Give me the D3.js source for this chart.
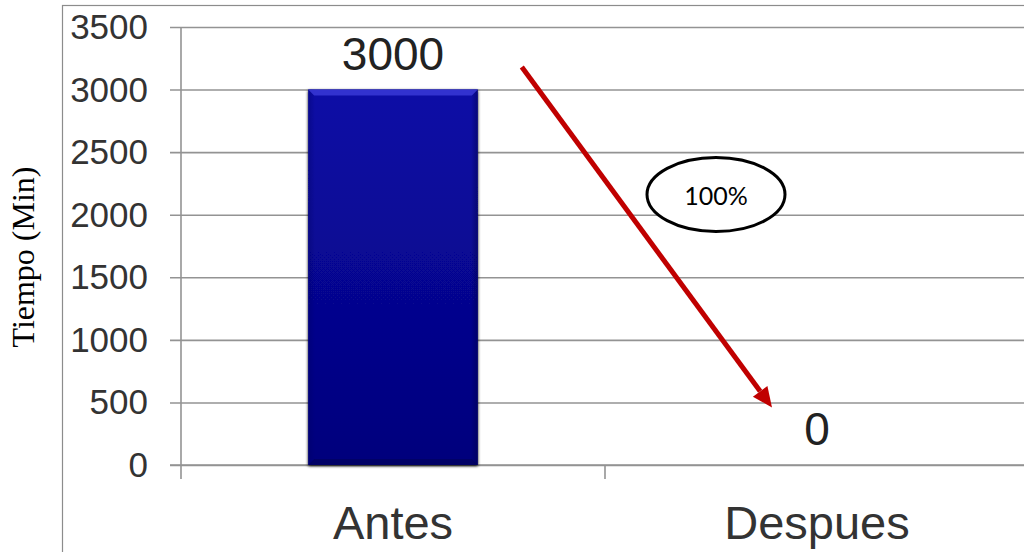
<!DOCTYPE html>
<html>
<head>
<meta charset="utf-8">
<script src="https://cdn.jsdelivr.net/npm/d3@7"></script>
<style>
  html, body { margin: 0; padding: 0; background: #fff; }
  svg { display: block; }
</style>
</head>
<body>
<svg id="chart" width="1024" height="552"></svg>
<script>
// Tiempo antes / después
const categories = ["Antes", "Despues"];
const values = [3000, 0];
const yTicks = [0, 500, 1000, 1500, 2000, 2500, 3000, 3500];
const reductionLabel = "100%";
const yTitle = "Tiempo (Min)";

(function () {
const svg = d3.select("#chart");
const W = 1024, H = 552;

// plot area
const pLeft = 181, pRight = 1029, pTop = 27, pBottom = 465;

const x = d3.scaleBand().domain(categories).range([pLeft, pRight]).paddingInner(0.6).paddingOuter(0.3);
const y = d3.scaleLinear().domain([0, 3500]).range([pBottom, pTop]);

// gradients for the bevelled bar
const defs = svg.append("defs");
const g1 = defs.append("linearGradient").attr("id", "barFill").attr("x1", 0).attr("y1", 0).attr("x2", 0).attr("y2", 1);
g1.append("stop").attr("offset", "0%").attr("stop-color", "#0a0aa6");
g1.append("stop").attr("offset", "100%").attr("stop-color", "#03037c");
const g2 = defs.append("linearGradient").attr("id", "barSide").attr("x1", 0).attr("y1", 0).attr("x2", 1).attr("y2", 0);
g2.append("stop").attr("offset", "0%").attr("stop-color", "#000060").attr("stop-opacity", 0.35);
g2.append("stop").attr("offset", "4%").attr("stop-color", "#000060").attr("stop-opacity", 0);
g2.append("stop").attr("offset", "96%").attr("stop-color", "#000040").attr("stop-opacity", 0);
g2.append("stop").attr("offset", "100%").attr("stop-color", "#000040").attr("stop-opacity", 0.45);
const shadow = defs.append("filter").attr("id", "shadow").attr("x", "-10%").attr("y", "-10%").attr("width", "120%").attr("height", "120%");
shadow.append("feGaussianBlur").attr("in", "SourceAlpha").attr("stdDeviation", 1.5);
shadow.append("feOffset").attr("dx", 0).attr("dy", 1).attr("result", "b");
const fm = shadow.append("feMerge");
fm.append("feMergeNode").attr("in", "b");
fm.append("feMergeNode").attr("in", "SourceGraphic");

// outer frame
svg.append("rect").attr("x", 62.5).attr("y", 5.5).attr("width", 1000).attr("height", 600)
  .attr("fill", "none").attr("stroke", "#8c8c8c").attr("stroke-width", 1.2);

// horizontal gridlines + y axis
const yAxis = d3.axisLeft(y).tickValues(yTicks).tickSize(0).tickPadding(8).tickFormat(d3.format("d"));
const gy = svg.append("g").attr("transform", `translate(${pLeft},0)`).call(yAxis);
gy.select(".domain").remove();
gy.selectAll(".tick line").attr("x1", -11).attr("x2", W - pLeft + 5).attr("stroke", "#939393").attr("stroke-width", 1.6);
gy.selectAll(".tick text").attr("x", -33).attr("dy", "0.33em").attr("fill", "#333")
  .style("font-family", "Liberation Sans, Arial, sans-serif").style("font-size", "35px");

// vertical axis line
svg.append("line").attr("x1", pLeft).attr("x2", pLeft).attr("y1", pTop).attr("y2", pBottom + 14)
  .attr("stroke", "#939393").attr("stroke-width", 1.6);

// x axis baseline and category ticks
svg.append("line").attr("x1", pLeft - 11).attr("x2", W).attr("y1", y(0)).attr("y2", y(0))
  .attr("stroke", "#939393").attr("stroke-width", 1.6);
const step = x.step();
categories.slice(1).forEach(c => {
  const bx = x(c) + x.bandwidth() / 2 - step / 2;
  svg.append("line").attr("x1", bx).attr("x2", bx).attr("y1", y(0)).attr("y2", y(0) + 14)
    .attr("stroke", "#939393").attr("stroke-width", 1.6);
});

// bars
const rows = categories.map((c, i) => ({ c, v: values[i] }));
const bars = svg.append("g").selectAll("g").data(rows).join("g");
bars.filter(d => d.v > 0).each(function (d) {
  const g = d3.select(this);
  const bx = x(d.c), bw = x.bandwidth(), by = y(d.v), bh = y(0) - y(d.v);
  g.append("rect").attr("x", bx).attr("y", by).attr("width", bw).attr("height", bh)
    .attr("fill", "url(#barFill)").attr("filter", "url(#shadow)");
  g.append("rect").attr("x", bx).attr("y", by).attr("width", bw).attr("height", bh).attr("fill", "url(#barSide)");
  // top bevel
  g.append("path").attr("d", `M${bx},${by} L${bx + bw},${by} L${bx + bw - 6},${by + 6} L${bx + 6},${by + 6} Z`)
    .attr("fill", "#3a3ad6").attr("opacity", 0.85);
  // bottom bevel
  g.append("path").attr("d", `M${bx},${by + bh} L${bx + bw},${by + bh} L${bx + bw - 6},${by + bh - 6} L${bx + 6},${by + bh - 6} Z`)
    .attr("fill", "#010158").attr("opacity", 0.6);
});

// value labels
svg.append("g").selectAll("text").data(rows).join("text")
  .attr("x", d => x(d.c) + x.bandwidth() / 2)
  .attr("y", d => y(d.v) - 20)
  .attr("text-anchor", "middle")
  .attr("fill", "#222")
  .style("font-family", "Liberation Sans, Arial, sans-serif")
  .style("font-size", "46px")
  .text(d => d.v);

// category labels
svg.append("g").selectAll("text").data(categories).join("text")
  .attr("x", d => x(d) + x.bandwidth() / 2)
  .attr("y", 539)
  .attr("text-anchor", "middle")
  .attr("fill", "#333")
  .style("font-family", "Liberation Sans, Arial, sans-serif")
  .style("font-size", "47px")
  .text(d => d);

// y axis title
svg.append("text")
  .attr("transform", `translate(34,${(pTop + pBottom) / 2 + 11}) rotate(-90)`)
  .attr("text-anchor", "middle")
  .attr("fill", "#000")
  .style("font-family", "Liberation Serif, Times New Roman, serif")
  .style("font-size", "32px")
  .text(yTitle);

// reduction arrow
const ax1 = x(categories[0]) + x.bandwidth() + 44, ay1 = y(3180);
const ax2 = x(categories[1]) + x.bandwidth() / 2 - 45, ay2 = y(460);
const ang = Math.atan2(ay2 - ay1, ax2 - ax1);
const headL = 20, headW = 9;
const bxh = ax2 - headL * Math.cos(ang), byh = ay2 - headL * Math.sin(ang);
svg.append("line").attr("x1", ax1).attr("y1", ay1).attr("x2", bxh).attr("y2", byh)
  .attr("stroke", "#c00000").attr("stroke-width", 5);
svg.append("path")
  .attr("d", `M${ax2},${ay2} L${bxh + headW * Math.sin(ang)},${byh - headW * Math.cos(ang)} L${bxh - headW * Math.sin(ang)},${byh + headW * Math.cos(ang)} Z`)
  .attr("fill", "#c00000");

// reduction callout
const ex = 716, ey = 194.5;
svg.append("ellipse").attr("cx", ex).attr("cy", ey).attr("rx", 69).attr("ry", 37)
  .attr("fill", "#fff").attr("stroke", "#000").attr("stroke-width", 3);
svg.append("text").attr("x", ex).attr("y", ey + 10).attr("text-anchor", "middle")
  .attr("fill", "#000")
  .style("font-family", "Lato, Open Sans, sans-serif")
  .style("font-size", "25px")
  .text(reductionLabel);
})();
</script>
</body>
</html>
